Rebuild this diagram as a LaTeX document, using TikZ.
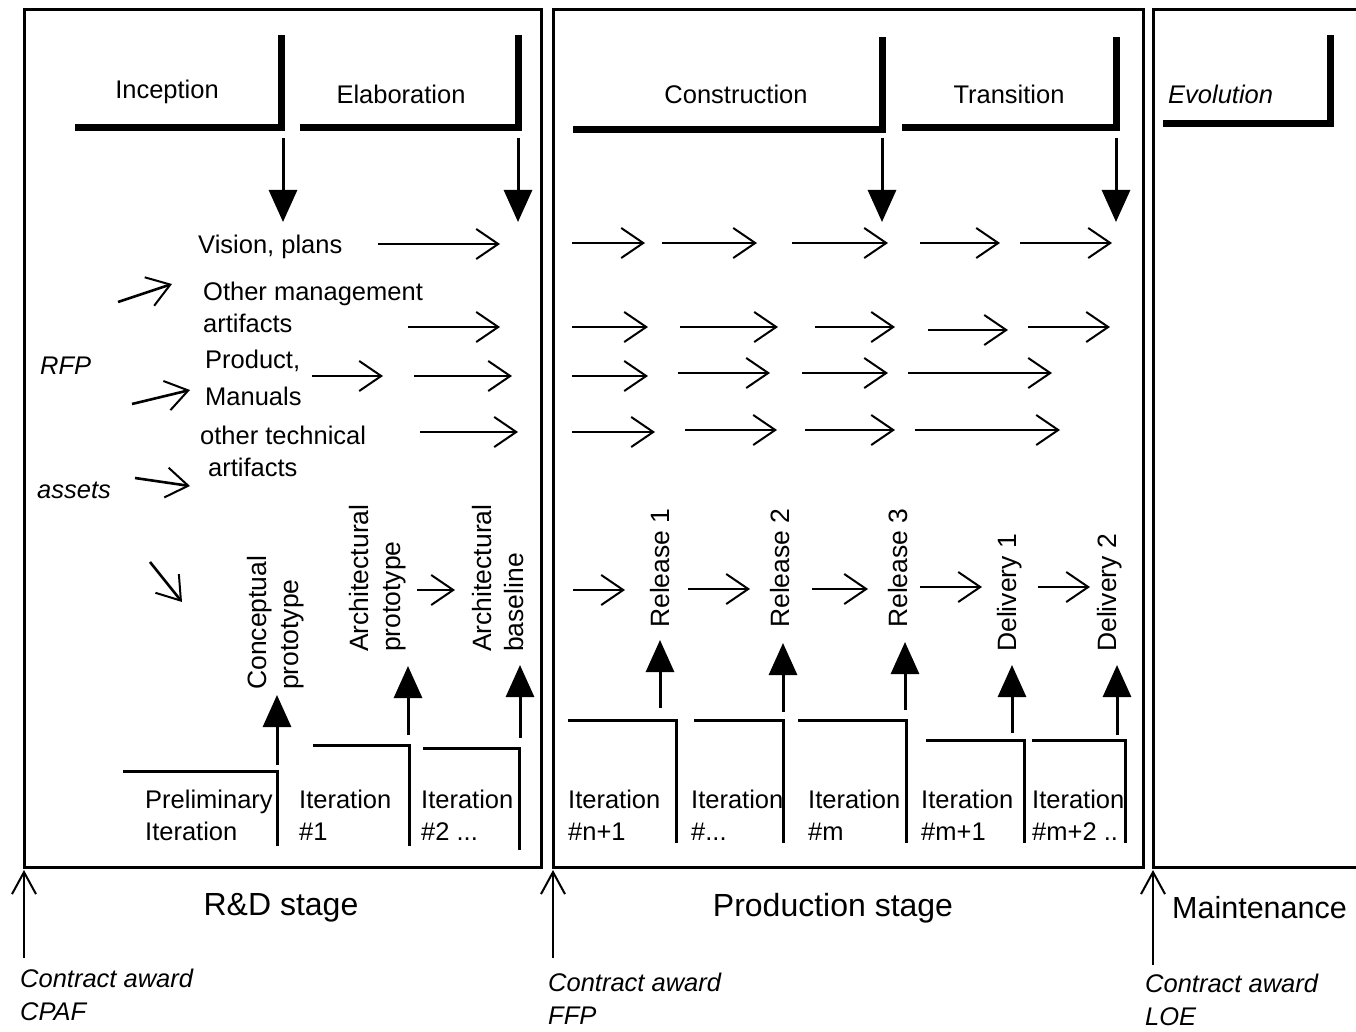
\documentclass[tikz,border=0pt]{standalone}
\usepackage{fontspec}
\setmainfont{Liberation Sans}
\usetikzlibrary{arrows.meta}
\begin{document}
\begin{tikzpicture}[x=1pt,y=-1pt,
  txt/.style={inner sep=0pt,font=\fontsize{25.5}{32}\selectfont,align=left},
  itxt/.style={inner sep=0pt,font=\fontsize{25.5}{33}\selectfont\itshape,align=left},
  rtxt/.style={inner sep=0pt,font=\fontsize{26.5}{32}\selectfont,align=left,rotate=90,anchor=west},
  stagetxt/.style={inner sep=0pt,font=\fontsize{32}{38}\selectfont},
  frame/.style={line width=3pt},
  phase/.style={line width=7pt},
  iter/.style={line width=3pt},
  milestone/.style={line width=3pt,-{Triangle[length=32pt,width=28pt]}},
  flow/.style={line width=2.6pt,-{Straight Barb[length=22pt,width=30pt,line width=2pt]}},
  award/.style={line width=2.4pt,-{Straight Barb[length=22pt,width=24pt,line width=2pt]}}
]
\useasboundingbox (0,0) rectangle (1356,1032);
\clip (0,0) rectangle (1356,1032);
\fill[white] (0,0) rectangle (1356,1032);

% stage frames
\draw[frame] (24,10) rectangle (541,867);
\draw[frame] (553,10) rectangle (1143,867);
\draw[frame] (1153,10) rectangle (1380,867);

% phase headers
\node[txt] (inc) at (167,92) {Inception};
\node[txt] (ela) at (401,94) {Elaboration};
\node[txt] (con) at (736,94) {Construction};
\node[txt] (tra) at (1009,94) {Transition};
\node[itxt,anchor=west] (evo) at (1168,94) {Evolution};
\draw[phase] (75,128) -| (281,35);
\draw[phase] (300,128) -| (518,35);
\draw[phase] (573,130) -| (882,37);
\draw[phase] (902,128) -| (1116,37);
\draw[phase] (1163,124) -| (1330,35);

% phase end milestones
\foreach \x/\n in {283/1,518/2,882/3,1116/4} {
  \coordinate (ms\n) at (\x,138);
  \coordinate (me\n) at (\x,222);
  \draw[milestone] (ms\n) -- (me\n);
}

% artifact sets
\node[txt,anchor=west] (vis) at (198,247) {Vision, plans};
\node[txt,anchor=west] (mgt) at (203,307) {Other management\\artifacts};
\node[txt,anchor=west] (prd) at (205,378) {Product,\\[5pt]Manuals};
\node[txt,anchor=west] (tec) at (200,451) {other technical\\\hspace*{8pt}artifacts};
\node[itxt,anchor=west] (rfp) at (40,366) {RFP};
\node[itxt,anchor=west] (ast) at (37,490) {assets};

% inputs
\coordinate (i1a) at (118,302); \coordinate (i1b) at (172,284);
\coordinate (i2a) at (132,404); \coordinate (i2b) at (190,390);
\coordinate (i3a) at (135,478); \coordinate (i3b) at (190,486);
\coordinate (i4a) at (150,562); \coordinate (i4b) at (182,602);
\foreach \n in {1,...,4} \draw[flow] (i\n a) -- (i\n b);

% artifact evolution
\foreach \a/\b/\y [count=\i] in {
  378/500/244, 572/645/243, 662/757/243, 792/888/243, 920/1000/243, 1020/1112/243,
  408/500/327, 572/648/327, 680/778/327, 815/895/327, 928/1008/330, 1028/1110/327,
  312/383/376, 414/512/376, 572/648/376, 678/770/373, 802/888/373, 908/1052/373,
  420/518/432, 572/655/432, 685/777/430, 805/895/430, 915/1060/430,
  417/455/590, 573/625/590, 688/750/589, 812/868/589, 920/982/587, 1038/1090/587} {
  \coordinate (fa\i) at (\a,\y);
  \coordinate (fb\i) at (\b,\y);
  \draw[flow] (fa\i) -- (fb\i);
}

% intermediate products
\node[rtxt] (cpt) at (276,690) {Conceptual\\prototype};
\node[rtxt] (apt) at (378,652) {Architectural\\prototype};
\node[rtxt] (abl) at (498,652) {Architectural\\baseline};
\node[rtxt] (r1) at (660,628) {Release 1};
\node[rtxt] (r2) at (780,628) {Release 2};
\node[rtxt] (r3) at (898,628) {Release 3};
\node[rtxt] (d1) at (1010,652) {Delivery 1};
\node[rtxt] (d2) at (1110,652) {Delivery 2};

% iterations
\draw[iter] (123,771) -| (277,846);
\draw[iter] (313,745) -| (409,846);
\draw[iter] (423,748) -| (519,850);
\draw[iter] (568,720) -| (676,843);
\draw[iter] (694,720) -| (783,843);
\draw[iter] (798,720) -| (906,843);
\draw[iter] (926,740) -| (1024,843);
\draw[iter] (1032,740) -| (1125,843);

\node[txt,anchor=west] (it0) at (145,815) {Preliminary\\Iteration};
\node[txt,anchor=west] (it1) at (299,815) {Iteration\\\#1};
\node[txt,anchor=west] (it2) at (421,815) {Iteration\\\#2 ...};
\node[txt,anchor=west] (it3) at (568,815) {Iteration\\\#n+1};
\node[txt,anchor=west] (it4) at (691,815) {Iteration\\\#...};
\node[txt,anchor=west] (it5) at (808,815) {Iteration\\\#m};
\node[txt,anchor=west] (it6) at (921,815) {Iteration\\\#m+1};
\node[txt,anchor=west] (it7) at (1032,815) {Iteration\\\#m+2 ..};

% iteration results
\foreach \x/\s/\e [count=\n] in {277/765/695, 408/735/666, 520/738/665, 660/708/640,
  783/712/643, 905/710/642, 1012/733/665, 1117/735/665} {
  \coordinate (us\n) at (\x,\s);
  \coordinate (ue\n) at (\x,\e);
  \draw[milestone] (us\n) -- (ue\n);
}

% stages and contract awards
\node[stagetxt] (rd) at (281,908) {R\&D stage};
\node[stagetxt] (pr) at (833,908) {Production stage};
\node[stagetxt,anchor=west,font=\fontsize{30.5}{36}\selectfont] (mt) at (1172,908) {Maintenance};

\foreach \x/\e [count=\n] in {24/958, 553/958, 1153/965} {
  \coordinate (cs\n) at (\x,\e);
  \coordinate (ce\n) at (\x,870);
  \draw[award] (cs\n) -- (ce\n);
}
\node[itxt,anchor=west] (ca1) at (20,995) {Contract award\\CPAF};
\node[itxt,anchor=west] (ca2) at (548,999) {Contract award\\FFP};
\node[itxt,anchor=west] (ca3) at (1145,1000) {Contract award\\LOE};
\end{tikzpicture}
\end{document}
